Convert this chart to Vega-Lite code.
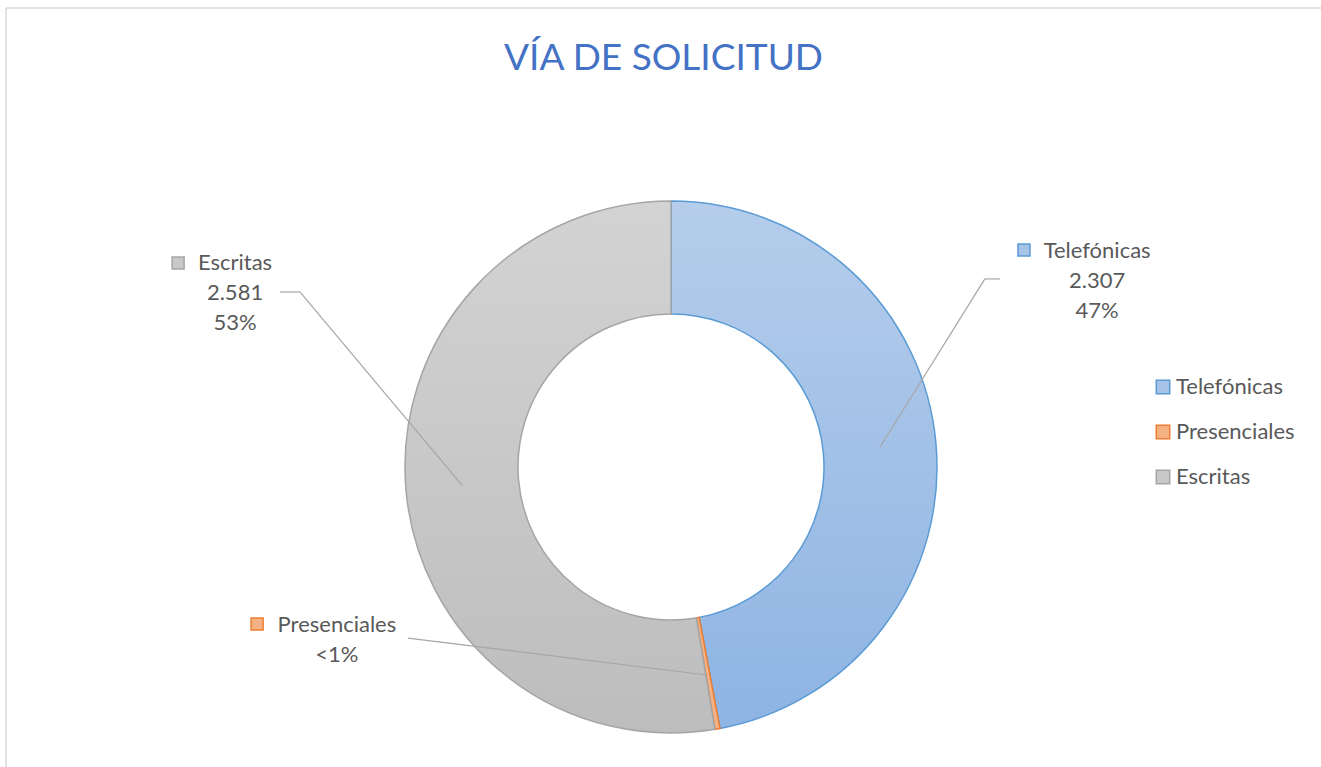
{
  "$schema": "https://vega.github.io/schema/vega-lite/v6.json",
  "width": 1315,
  "height": 759,
  "autosize": {"type": "none"},
  "padding": {"left": 6, "top": 8, "right": 0, "bottom": 0},
  "background": "white",
  "title": {
    "text": "VÍA DE SOLICITUD",
    "anchor": "middle",
    "orient": "top",
    "baseline": "alphabetic",
    "offset": -100,
    "font": "Lato",
    "fontSize": 37,
    "fontWeight": "normal",
    "color": "#4472C4"
  },
  "data": {
    "values": [
      {"via": "Telefónicas", "n": 2307, "orden": 1, "etiqueta": "Telefónicas\n2.307\n47%"},
      {"via": "Presenciales", "n": 15, "orden": 2, "etiqueta": "Presenciales\n<1%"},
      {"via": "Escritas", "n": 2581, "orden": 3, "etiqueta": "Escritas\n2.581\n53%"}
    ]
  },
  "layer": [
    {
      "transform": [{"filter": "datum.orden === 1"}],
      "mark": {"type": "rule", "color": "#D9D9D9", "strokeWidth": 1.5},
      "encoding": {
        "x": {"datum": -2.5, "type": "quantitative", "scale": {"domain": [-2.5, 2.44361], "nice": false, "zero": false}, "axis": null}
      }
    },
    {
      "transform": [{"filter": "datum.orden === 1"}],
      "mark": {"type": "rule", "color": "#D9D9D9", "strokeWidth": 1.5},
      "encoding": {
        "y": {"datum": 1.72556, "type": "quantitative", "scale": {"domain": [-1.12782, 1.72556], "nice": false, "zero": false}, "axis": null}
      }
    },
    {
      "mark": {"type": "arc", "outerRadius": 266, "innerRadius": 153, "strokeWidth": 1.5},
      "encoding": {
        "x": {"datum": 0, "type": "quantitative"},
        "y": {"datum": 0, "type": "quantitative"},
        "theta": {"field": "n", "type": "quantitative", "stack": true},
        "order": {"field": "orden", "type": "quantitative"},
        "fill": {
          "condition": [
            {"test": "datum.via === 'Telefónicas'", "value": {"gradient": "linear", "x1": 0, "y1": 0, "x2": 0, "y2": 1, "stops": [{"offset": 0, "color": "#B5CDEB"}, {"offset": 1, "color": "#8EB4E3"}]}},
            {"test": "datum.via === 'Escritas'", "value": {"gradient": "linear", "x1": 0, "y1": 0, "x2": 0, "y2": 1, "stops": [{"offset": 0, "color": "#D3D3D3"}, {"offset": 1, "color": "#BDBDBD"}]}}
          ],
          "field": "via", "type": "nominal", "title": null,
          "scale": {"domain": ["Telefónicas", "Presenciales", "Escritas"], "range": ["#A6C3E8", "#F4B183", "#C8C8C8"]}
        },
        "stroke": {
          "field": "via", "type": "nominal", "title": null,
          "scale": {"domain": ["Telefónicas", "Presenciales", "Escritas"], "range": ["#5B9BD5", "#ED7D31", "#A5A5A5"]}
        }
      }
    },
    {
      "transform": [{"filter": "datum.via === 'Telefónicas'"}],
      "mark": {"type": "rule", "color": "#A6A6A6", "strokeWidth": 1.2},
      "encoding": {
        "x": {"datum": 0.786, "type": "quantitative"}, "y": {"datum": 0.075, "type": "quantitative"},
        "x2": {"datum": 1.180}, "y2": {"datum": 0.707}
      }
    },
    {
      "transform": [{"filter": "datum.via === 'Telefónicas'"}],
      "mark": {"type": "rule", "color": "#A6A6A6", "strokeWidth": 1.2},
      "encoding": {
        "x": {"datum": 1.180, "type": "quantitative"}, "y": {"datum": 0.707, "type": "quantitative"},
        "x2": {"datum": 1.237}, "y2": {"datum": 0.707}
      }
    },
    {
      "transform": [{"filter": "datum.via === 'Escritas'"}],
      "mark": {"type": "rule", "color": "#A6A6A6", "strokeWidth": 1.2},
      "encoding": {
        "x": {"datum": -0.786, "type": "quantitative"}, "y": {"datum": -0.068, "type": "quantitative"},
        "x2": {"datum": -1.395}, "y2": {"datum": 0.658}
      }
    },
    {
      "transform": [{"filter": "datum.via === 'Escritas'"}],
      "mark": {"type": "rule", "color": "#A6A6A6", "strokeWidth": 1.2},
      "encoding": {
        "x": {"datum": -1.395, "type": "quantitative"}, "y": {"datum": 0.658, "type": "quantitative"},
        "x2": {"datum": -1.470}, "y2": {"datum": 0.658}
      }
    },
    {
      "transform": [{"filter": "datum.via === 'Presenciales'"}],
      "mark": {"type": "rule", "color": "#A6A6A6", "strokeWidth": 1.2},
      "encoding": {
        "x": {"datum": 0.135, "type": "quantitative"}, "y": {"datum": -0.782, "type": "quantitative"},
        "x2": {"datum": -0.989}, "y2": {"datum": -0.643}
      }
    },
    {
      "transform": [{"filter": "datum.via === 'Telefónicas'"}],
      "mark": {"type": "text", "font": "Lato", "fontSize": 22, "color": "#595959", "align": "center", "baseline": "middle", "lineBreak": "\n", "lineHeight": 30},
      "encoding": {
        "x": {"datum": 1.602, "type": "quantitative"}, "y": {"datum": 0.812, "type": "quantitative"},
        "text": {"field": "etiqueta", "type": "nominal"}
      }
    },
    {
      "transform": [{"filter": "datum.via === 'Escritas'"}],
      "mark": {"type": "text", "font": "Lato", "fontSize": 22, "color": "#595959", "align": "center", "baseline": "middle", "lineBreak": "\n", "lineHeight": 30},
      "encoding": {
        "x": {"datum": -1.639, "type": "quantitative"}, "y": {"datum": 0.767, "type": "quantitative"},
        "text": {"field": "etiqueta", "type": "nominal"}
      }
    },
    {
      "transform": [{"filter": "datum.via === 'Presenciales'"}],
      "mark": {"type": "text", "font": "Lato", "fontSize": 22, "color": "#595959", "align": "center", "baseline": "middle", "lineBreak": "\n", "lineHeight": 30},
      "encoding": {
        "x": {"datum": -1.256, "type": "quantitative"}, "y": {"datum": -0.594, "type": "quantitative"},
        "text": {"field": "etiqueta", "type": "nominal"}
      }
    },
    {
      "transform": [{"filter": "datum.via === 'Telefónicas'"}],
      "mark": {"type": "point", "shape": "square", "size": 144, "filled": true, "opacity": 1, "strokeWidth": 1.5},
      "encoding": {
        "x": {"datum": 1.327, "type": "quantitative"}, "y": {"datum": 0.816, "type": "quantitative"},
        "fill": {"field": "via", "type": "nominal", "title": null},
        "stroke": {"field": "via", "type": "nominal", "title": null}
      }
    },
    {
      "transform": [{"filter": "datum.via === 'Escritas'"}],
      "mark": {"type": "point", "shape": "square", "size": 144, "filled": true, "opacity": 1, "strokeWidth": 1.5},
      "encoding": {
        "x": {"datum": -1.853, "type": "quantitative"}, "y": {"datum": 0.767, "type": "quantitative"},
        "fill": {"field": "via", "type": "nominal", "title": null},
        "stroke": {"field": "via", "type": "nominal", "title": null}
      }
    },
    {
      "transform": [{"filter": "datum.via === 'Presenciales'"}],
      "mark": {"type": "point", "shape": "square", "size": 144, "filled": true, "opacity": 1, "strokeWidth": 1.5},
      "encoding": {
        "x": {"datum": -1.556, "type": "quantitative"}, "y": {"datum": -0.590, "type": "quantitative"},
        "fill": {"field": "via", "type": "nominal", "title": null},
        "stroke": {"field": "via", "type": "nominal", "title": null}
      }
    }
  ],
  "config": {
    "view": {"stroke": null},
    "legend": {
      "orient": "none",
      "legendX": 1146,
      "legendY": 368,
      "padding": 0,
      "symbolType": "square",
      "symbolSize": 180,
      "symbolStrokeWidth": 1.5,
      "labelFont": "Lato",
      "labelFontSize": 22,
      "labelColor": "#595959",
      "labelOffset": 2,
      "rowPadding": 23,
      "titlePadding": 0
    }
  }
}
